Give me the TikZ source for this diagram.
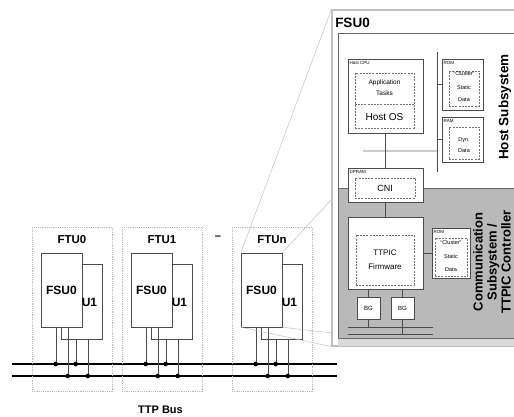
\documentclass[tikz,border=0pt]{standalone}
\usepackage{fontspec}
\setmainfont{Liberation Sans}
\usetikzlibrary{calc}

\begin{document}
\begin{tikzpicture}[x=1pt, y=-1pt,
    box/.style={draw=black!70, fill=white, inner sep=0pt},
    cell/.style={draw=black!55, dash pattern=on 2pt off 1.2pt, inner sep=0pt, align=center},
    ftubox/.style={draw=gray!55, dash pattern=on 1.2pt off 1pt, inner sep=0pt},
    bus/.style={line width=1.4pt},
    tap/.style={draw=black!70},
    zoomln/.style={draw=gray!55},
    big/.style={font=\bfseries\fontsize{12}{12}\selectfont, inner sep=0pt},
    tag/.style={font=\fontsize{4.5}{4.5}\selectfont, inner sep=0pt, anchor=north west, xshift=1.5pt, yshift=-2pt},
    txt/.style={font=\fontsize{5.5}{5.5}\selectfont, inner sep=0pt}
  ]
  \clip (0,0) rectangle (514,417);

  % FSU0 in detail
  \node[draw=gray!50, line width=1.2pt, minimum width=198pt, minimum height=336pt, inner sep=0pt] (frame) at (431,178) {};
  \fill[gray!30] (338,339) rectangle (530,346);
  \node[draw=black!60, fill=white, minimum width=192pt, minimum height=305pt, inner sep=0pt] (sub) at (434,185.5) {};
  \node[draw=black!60, fill=gray!55, minimum width=192pt, minimum height=150pt, inner sep=0pt, anchor=north west] (comm) at (338,188) {};
  \node[font=\bfseries\fontsize{13.5}{13.5}\selectfont, inner sep=0pt] (title) at (352.5,23) {FSU0};

  % host subsystem
  \coordinate (hbtop) at (437,52);
  \coordinate (hbbot) at (437,172);
  \coordinate (hline) at (363,151);
  \draw[tap] (hbtop) -- (hbbot);
  \draw[gray!40, line width=1.8pt] (hline) -- (hbbot |- hline);

  \node[box, minimum width=75pt, minimum height=74pt] (cpu) at (385.5,96) {};
  \node[tag] at (cpu.north west) {Host CPU};
  \node[cell, minimum width=59pt, minimum height=55pt] (apps) at (384.5,100.5) {};
  \draw[cell] (apps.west |- 0,104) -- (apps.east |- 0,104);
  \node[txt, align=center, font=\fontsize{6.5}{11}\selectfont] at (384.5,88) {Application\\Tasks};
  \node[font=\fontsize{10}{10}\selectfont, inner sep=0pt] (hostos) at (384.5,117) {Host OS};

  \node[box, minimum width=41pt, minimum height=51pt] (rom) at (462.5,84.5) {};
  \node[tag] at (rom.north west) {ROM};
  \node[cell, minimum width=30pt, minimum height=35pt] (romcell) at (464,88.5) {};
  \node[txt, fill=white, inner sep=0.3pt] at (464,74) {``Cluster''};
  \node[txt] at (464,88) {Static};
  \node[txt] at (464,100) {Data};
  \draw[tap] (hbtop |- rom.west) -- (rom.west);

  \node[box, minimum width=41pt, minimum height=45pt] (ram) at (462.5,139.5) {};
  \node[tag] at (ram.north west) {RAM};
  \node[cell, minimum width=30pt, minimum height=32pt] (ramcell) at (464,143) {};
  \node[txt] at (464,140) {Dyn.};
  \node[txt] at (464,151) {Data};
  \draw[tap] (hbtop |- ram.west) -- (ram.west);

  \node[rotate=90, font=\bfseries\fontsize{13.5}{13.5}\selectfont, inner sep=0pt] (hostlbl) at (505,107) {Host Subsystem};

  % dual ported RAM
  \node[box, minimum width=75pt, minimum height=34pt] (dpram) at (385.5,185) {};
  \node[tag] at (dpram.north west) {DPRAM};
  \node[cell, minimum width=60pt, minimum height=20pt, font=\fontsize{9}{9}\selectfont] (cni) at (385,188) {CNI};
  \draw[tap] (cpu.south) -- (dpram.north);

  % communication subsystem
  \node[box, minimum width=75pt, minimum height=72pt] (ttpic) at (385.5,253) {};
  \node[cell, minimum width=58pt, minimum height=50pt, font=\fontsize{8}{14}\selectfont] (fw) at (385,260) {TTPIC\\Firmware};
  \draw[tap] (dpram.south) -- (ttpic.north);

  \node[box, minimum width=38pt, minimum height=50pt] (romb) at (451,253) {};
  \node[tag] at (romb.north west) {ROM};
  \node[cell, minimum width=32pt, minimum height=38pt] (rombcell) at (451,257) {};
  \node[txt, fill=white, inner sep=0.3pt] at (451,243) {``Cluster''};
  \node[txt] at (451,257) {Static};
  \node[txt] at (451,270) {Data};
  \draw[tap] (ttpic.east) -- (romb.west);

  \coordinate (cbA) at (348,327);
  \coordinate (cbAe) at (433,327);
  \coordinate (cbB) at (348,334);
  \coordinate (cbBe) at (433,334);
  \draw[tap] (cbA) -- (cbAe);
  \draw[tap] (cbB) -- (cbBe);
  \node[box, minimum width=23pt, minimum height=22pt, font=\fontsize{6}{6}\selectfont] (bga) at (368.5,308) {BG};
  \node[box, minimum width=23pt, minimum height=22pt, font=\fontsize{6}{6}\selectfont] (bgb) at (402.5,308) {BG};
  \draw[tap] (ttpic.south -| bga) -- (bga.north);
  \draw[tap] (bga.south) -- (bga |- cbA);
  \draw[tap] (ttpic.south -| bgb) -- (bgb.north);
  \draw[tap] (bgb.south) -- (bgb |- cbB);

  \node[rotate=90, align=center, font=\bfseries\fontsize{13}{14}\selectfont, inner sep=0pt] (commlbl) at (492,262) {Communication\\Subsystem /\\TTPIC Controller};

  % cluster with TTP bus
  \coordinate (busA) at (12,364);
  \coordinate (busAe) at (337,364);
  \coordinate (busB) at (12,376);
  \coordinate (busBe) at (337,376);
  \draw[bus] (busA) -- (busAe);
  \draw[bus] (busB) -- (busBe);

  \foreach \dx/\n in {0/0, 90/1, 200/n} {
    \node[ftubox, minimum width=80pt, minimum height=164pt] (ftu\n) at (72+\dx,309) {};
    \node[big, font=\bfseries\fontsize{11.5}{11.5}\selectfont] at (72+\dx,239.5) {FTU\n};
    \node[box, minimum width=41pt, minimum height=75pt] (uone\n) at (81.5+\dx,301.5) {};
    \node[box, minimum width=41pt, minimum height=74pt] (fsu\n) at (61.5+\dx,290) {};
    \node[big] at (fsu\n) {FSU0};
    \node[big] at (89.5+\dx,302) {U1};
    \foreach \off/\src/\rail in {15/fsu/busA, 27/fsu/busB, 15/uone/busA, 27/uone/busB} {
      \coordinate (tp) at ([xshift=\off pt]\src\n.south west);
      \draw[tap] (tp) -- (tp |- \rail);
      \fill (tp |- \rail) circle (2.3pt);
    }
  }
  \node[font=\bfseries\fontsize{11}{11}\selectfont, inner sep=0pt] (more) at (218,238) {--};
  \node[font=\bfseries\fontsize{11}{11}\selectfont, inner sep=0pt] (buslbl) at (160.5,410) {TTP Bus};

  % zoom lines
  \coordinate (zoomA) at (332,199);
  \coordinate (zoomB) at (332,333);
  \draw[zoomln] (fsun.north west) -- (frame.north west);
  \draw[zoomln] (fsun.north east) -- (zoomA);
  \draw[zoomln] (fsun.south west) -- (frame.south west);
  \draw[zoomln] (fsun.south east) -- (zoomB);
\end{tikzpicture}
\end{document}
